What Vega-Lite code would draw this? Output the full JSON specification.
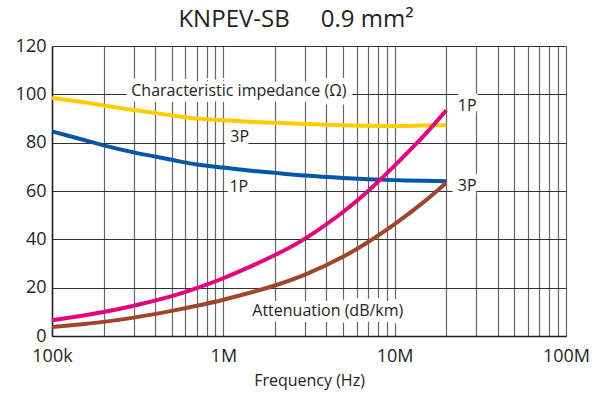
{
  "$schema": "https://vega.github.io/schema/vega-lite/v6.json",
  "autosize": {"type": "none"},
  "padding": {"left": 52, "top": 46, "right": 40, "bottom": 60},
  "width": 514,
  "height": 290,
  "background": "white",
  "config": {
    "view": {"stroke": null},
    "font": "Open Sans",
    "axis": {"labelFont": "Open Sans", "titleFont": "Open Sans", "labelColor": "#231f20", "titleColor": "#231f20"}
  },
  "title": {
    "text": "KNPEV-SB\u00a0\u00a0\u00a0\u00a0\u00a00.9 mm²",
    "font": "Open Sans",
    "fontSize": 24,
    "fontWeight": "normal",
    "color": "#231f20",
    "anchor": "middle",
    "offset": 5,
    "dx": -13
  },
  "datasets": {
    "curves": [
      {"freq": 100000, "value": 98.5, "series": "Z 1P"},
      {"freq": 150000, "value": 96.8, "series": "Z 1P"},
      {"freq": 200000, "value": 95.4, "series": "Z 1P"},
      {"freq": 300000, "value": 93.5, "series": "Z 1P"},
      {"freq": 500000, "value": 91.3, "series": "Z 1P"},
      {"freq": 700000, "value": 90.0, "series": "Z 1P"},
      {"freq": 1000000, "value": 89.3, "series": "Z 1P"},
      {"freq": 1500000, "value": 88.6, "series": "Z 1P"},
      {"freq": 2000000, "value": 88.2, "series": "Z 1P"},
      {"freq": 3000000, "value": 87.7, "series": "Z 1P"},
      {"freq": 5000000, "value": 87.2, "series": "Z 1P"},
      {"freq": 7000000, "value": 87.0, "series": "Z 1P"},
      {"freq": 10000000, "value": 86.9, "series": "Z 1P"},
      {"freq": 15000000, "value": 87.1, "series": "Z 1P"},
      {"freq": 20000000, "value": 87.3, "series": "Z 1P"},
      {"freq": 100000, "value": 84.7, "series": "Z 3P"},
      {"freq": 150000, "value": 81.3, "series": "Z 3P"},
      {"freq": 200000, "value": 78.9, "series": "Z 3P"},
      {"freq": 300000, "value": 76.0, "series": "Z 3P"},
      {"freq": 500000, "value": 72.9, "series": "Z 3P"},
      {"freq": 700000, "value": 71.0, "series": "Z 3P"},
      {"freq": 1000000, "value": 69.7, "series": "Z 3P"},
      {"freq": 1500000, "value": 68.3, "series": "Z 3P"},
      {"freq": 2000000, "value": 67.5, "series": "Z 3P"},
      {"freq": 3000000, "value": 66.4, "series": "Z 3P"},
      {"freq": 5000000, "value": 65.4, "series": "Z 3P"},
      {"freq": 7000000, "value": 64.9, "series": "Z 3P"},
      {"freq": 10000000, "value": 64.5, "series": "Z 3P"},
      {"freq": 15000000, "value": 64.2, "series": "Z 3P"},
      {"freq": 20000000, "value": 64.0, "series": "Z 3P"},
      {"freq": 100000, "value": 6.5, "series": "A 1P"},
      {"freq": 150000, "value": 8.4, "series": "A 1P"},
      {"freq": 200000, "value": 9.9, "series": "A 1P"},
      {"freq": 300000, "value": 12.5, "series": "A 1P"},
      {"freq": 500000, "value": 16.5, "series": "A 1P"},
      {"freq": 700000, "value": 19.8, "series": "A 1P"},
      {"freq": 1000000, "value": 23.9, "series": "A 1P"},
      {"freq": 1500000, "value": 29.3, "series": "A 1P"},
      {"freq": 2000000, "value": 33.5, "series": "A 1P"},
      {"freq": 3000000, "value": 40.3, "series": "A 1P"},
      {"freq": 5000000, "value": 51.3, "series": "A 1P"},
      {"freq": 7000000, "value": 60.0, "series": "A 1P"},
      {"freq": 10000000, "value": 70.5, "series": "A 1P"},
      {"freq": 15000000, "value": 83.3, "series": "A 1P"},
      {"freq": 20000000, "value": 93.4, "series": "A 1P"},
      {"freq": 100000, "value": 3.7, "series": "A 3P"},
      {"freq": 150000, "value": 4.84, "series": "A 3P"},
      {"freq": 200000, "value": 5.84, "series": "A 3P"},
      {"freq": 300000, "value": 7.6, "series": "A 3P"},
      {"freq": 500000, "value": 10.4, "series": "A 3P"},
      {"freq": 700000, "value": 12.5, "series": "A 3P"},
      {"freq": 1000000, "value": 15.0, "series": "A 3P"},
      {"freq": 1500000, "value": 18.3, "series": "A 3P"},
      {"freq": 2000000, "value": 20.9, "series": "A 3P"},
      {"freq": 3000000, "value": 25.4, "series": "A 3P"},
      {"freq": 5000000, "value": 32.8, "series": "A 3P"},
      {"freq": 7000000, "value": 38.9, "series": "A 3P"},
      {"freq": 10000000, "value": 46.3, "series": "A 3P"},
      {"freq": 15000000, "value": 55.8, "series": "A 3P"},
      {"freq": 20000000, "value": 63.4, "series": "A 3P"}
    ],
    "labels": [
      {"freq": 1232000, "value": 101.3, "text": "Characteristic impedance (Ω)"},
      {"freq": 1245000, "value": 82.4, "text": "3P"},
      {"freq": 1232000, "value": 61.7, "text": "1P"},
      {"freq": 4070000, "value": 10.5, "text": "Attenuation (dB/km)"},
      {"freq": 26500000, "value": 95.2, "text": "1P"},
      {"freq": 26500000, "value": 62.1, "text": "3P"}
    ]
  },
  "encoding": {
    "x": {
      "field": "freq",
      "type": "quantitative",
      "scale": {"type": "log", "domain": [100000, 100000000], "nice": false},
      "axis": {
        "title": "Frequency (Hz)",
        "titleFontSize": 16,
        "titleFontWeight": "normal",
        "titlePadding": 7,
        "labelFontSize": 18,
        "labelPadding": 11,
        "labelOverlap": false,
        "labelFlush": false,
        "ticks": false,
        "domainColor": "#231f20",
        "domainWidth": 1.5,
        "gridColor": "#666666",
        "gridWidth": 1.2,
        "gridOpacity": 1,
        "values": [100000, 200000, 300000, 400000, 500000, 600000, 700000, 800000, 900000, 1000000, 2000000, 3000000, 4000000, 5000000, 6000000, 7000000, 8000000, 9000000, 10000000, 20000000, 30000000, 40000000, 50000000, 60000000, 70000000, 80000000, 90000000, 100000000],
        "labelExpr": "datum.value == 100000 ? '100k' : datum.value == 1000000 ? '1M' : datum.value == 10000000 ? '10M' : datum.value == 100000000 ? '100M' : ''"
      }
    },
    "y": {
      "field": "value",
      "type": "quantitative",
      "scale": {"domain": [0, 120], "nice": false},
      "axis": {
        "title": null,
        "values": [0, 20, 40, 60, 80, 100, 120],
        "labelFontSize": 18,
        "labelPadding": 6,
        "ticks": false,
        "domainColor": "#231f20",
        "domainWidth": 1.5,
        "gridColor": "#333333",
        "gridWidth": 1.2,
        "gridOpacity": 1
      }
    }
  },
  "layer": [
    {
      "data": {"name": "labels"},
      "mark": {"type": "text", "font": "Open Sans", "fontSize": 16, "align": "center", "baseline": "middle", "fill": "white", "stroke": "white", "strokeWidth": 12, "strokeJoin": "round"},
      "encoding": {"text": {"field": "text"}}
    },
    {
      "data": {"name": "labels"},
      "mark": {"type": "text", "font": "Open Sans", "fontSize": 16, "align": "center", "baseline": "middle", "color": "#231f20"},
      "encoding": {"text": {"field": "text"}}
    },
    {
      "data": {"name": "curves"},
      "mark": {"type": "line", "strokeWidth": 4, "interpolate": "natural"},
      "encoding": {
        "color": {
          "field": "series",
          "type": "nominal",
          "scale": {"domain": ["Z 1P", "Z 3P", "A 1P", "A 3P"], "range": ["#ffcc00", "#0057a8", "#e6007e", "#a0452d"]},
          "legend": null
        }
      }
    }
  ]
}
